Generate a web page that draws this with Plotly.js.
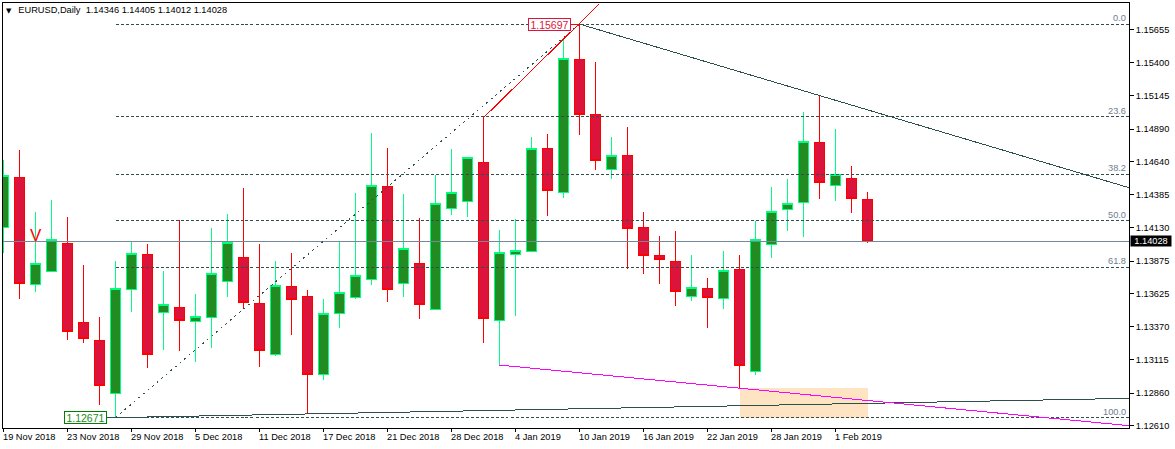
<!DOCTYPE html>
<html>
<head>
<meta charset="utf-8">
<script src="https://cdn.plot.ly/plotly-3.0.1.min.js"></script>
<style>
  html, body { margin: 0; padding: 0; background: #fff; }
  /* terminal style hard pixels */
  #chart svg path { shape-rendering: crispEdges; }
</style>
</head>
<body>
<div id="chart" style="width:1175px;height:449px"></div>
<script>
// daily bars, first one is 19 Nov 2018
const opens = [1.14133,1.14521,1.13696,1.13796,1.14006,1.13404,1.13265,1.12858,1.13657,1.13926,1.13480,1.13519,1.13411,1.13442,1.13719,1.13903,1.13552,1.13157,1.13680,1.13603,1.13004,1.13473,1.13596,1.13734,1.14449,1.13703,1.13857,1.13503,1.14280,1.14334,1.14634,1.13419,1.13926,1.13949,1.14742,1.14403,1.15426,1.15003,1.14580,1.14688,1.14129,1.13919,1.13873,1.13603,1.13665,1.13588,1.13811,1.13027,1.14003,1.14272,1.14326,1.14788,1.14457,1.14511,1.14346]
const highs = [1.14652,1.14728,1.14252,1.14344,1.14213,1.13844,1.13444,1.13875,1.14021,1.14006,1.13798,1.14190,1.13621,1.14129,1.14236,1.14436,1.14006,1.13875,1.13936,1.13652,1.13583,1.14029,1.14398,1.14857,1.14744,1.14390,1.14206,1.14539,1.14736,1.14672,1.14977,1.14113,1.14198,1.14828,1.14852,1.15574,1.15697,1.15405,1.14828,1.14905,1.14252,1.14067,1.14106,1.13921,1.13744,1.13952,1.13921,1.14185,1.14444,1.14505,1.15021,1.15149,1.14890,1.14605,1.14405]
const lows = [1.13936,1.13583,1.13639,1.13794,1.13267,1.13247,1.12768,1.12671,1.13483,1.13052,1.13190,1.13183,1.13098,1.13206,1.13598,1.13506,1.13062,1.13144,1.13306,1.12704,1.12960,1.13360,1.13583,1.13690,1.13560,1.13598,1.13429,1.13502,1.14231,1.14216,1.13247,1.13075,1.13454,1.13948,1.14221,1.14359,1.14844,1.14575,1.14505,1.13816,1.13775,1.13698,1.13529,1.13567,1.13360,1.13506,1.12896,1.13001,1.13898,1.14106,1.14062,1.14352,1.14336,1.14244,1.14012]
const closes = [1.14534,1.13700,1.13857,1.14042,1.13331,1.13277,1.12916,1.13665,1.13934,1.13154,1.13542,1.13416,1.13450,1.13780,1.14019,1.13554,1.13185,1.13688,1.13577,1.13001,1.13473,1.13634,1.13762,1.14457,1.13654,1.13973,1.13539,1.14316,1.14403,1.14672,1.13431,1.13942,1.13957,1.14742,1.14415,1.15431,1.15000,1.14646,1.14688,1.14123,1.13916,1.13885,1.13639,1.13673,1.13593,1.13803,1.13070,1.14042,1.14257,1.14319,1.14795,1.14477,1.14539,1.14352,1.14028]
const barIndex = opens.map((_, i) => i)

const dateTicks = [0,4,8,12,16,20,24,28,32,36,40,44,48,52]
const dateLabels = ['19 Nov 2018','23 Nov 2018','29 Nov 2018','5 Dec 2018','11 Dec 2018','17 Dec 2018','21 Dec 2018','28 Dec 2018','4 Jan 2019','10 Jan 2019','16 Jan 2019','22 Jan 2019','28 Jan 2019','1 Feb 2019']
const priceTicks = [1.15655,1.15400,1.15145,1.14890,1.14640,1.14385,1.14130,1.13875,1.13625,1.13370,1.13115,1.12860,1.12610]

// fibonacci retracement between the two marked extremes
const fibLevels = [1.15697,1.14983,1.14541,1.14184,1.13827,1.12671]
const fibLabels = ['0.0','23.6','38.2','50.0','61.8','100.0']
const fibStart = 7
const fibDiagX = [7,36]
const fibDiagY = [1.12671,1.15697]

const lastPrice = 1.14028
const xEnd = 70.42
const xRange = [-0.03125,70.34375]

// trend lines drawn on the chart
const redLineX = [30,37.23]
const redLineY = [1.14977,1.15851]
const fallingX = [36,xEnd]
const fallingY = [1.15697,1.14436]
const risingX = [7,xEnd]
const risingY = [1.12671,1.12819]
const magentaX = [31,xEnd]
const magentaY = [1.13075,1.12608]

// stems joining the price boxes to their points
const highStemX = [35.4,36]
const highStemY = [1.15697,1.15697]
const lowStemX = [6.4,7]
const lowStemY = [1.12671,1.12671]

const zoneX = [46,54]
const zoneY = [1.12671,1.12898]

const DARK = '#2f4f4f'
const FONT = 'Liberation Sans'
const TEXT_SIZE = 9.25

const lineTrace = (x, y, color, width, dash) => ({
    type: 'scatter',
    mode: 'lines',
    x: x,
    y: y,
    hoverinfo: 'skip',
    line: { color: color, width: width, dash: dash || 'solid' }
})

let data = [{
    type: 'candlestick',
    x: barIndex,
    open: opens,
    high: highs,
    low: lows,
    close: closes,
    whiskerwidth: 0,
    increasing: { line: { color: '#00ff7f', width: 1 }, fillcolor: '#228b22' },
    decreasing: { line: { color: '#ff0000', width: 1 }, fillcolor: '#dc143c' },
    hoverinfo: 'skip'
}]

data.push(lineTrace([barIndex[0] - 1, xEnd], [lastPrice, lastPrice], '#778899', 1))
fibLevels.forEach(level => {
    data.push(lineTrace([fibStart, xEnd], [level, level], DARK, 1, '3px,2px'))
})
data.push(lineTrace(fibDiagX, fibDiagY, DARK, 1, '2px,4px'))
data.push(lineTrace(fallingX, fallingY, DARK, 1))
data.push(lineTrace(risingX, risingY, DARK, 1))
data.push(lineTrace(magentaX, magentaY, '#ff00ff', 1))
data.push(lineTrace(redLineX, redLineY, '#ff0000', 1))
data.push(lineTrace(highStemX, highStemY, '#ff0000', 1))
data.push(lineTrace(lowStemX, lowStemY, DARK, 1))

let annotations = []

// left aligned date labels, the axis itself can only centre them
dateTicks.forEach((tick, i) => {
    annotations.push({
        x: tick, y: 0, xref: 'x', yref: 'paper',
        text: dateLabels[i], showarrow: false,
        xanchor: 'left', yanchor: 'top', xshift: -3, yshift: -2,
        font: { family: FONT, size: TEXT_SIZE, color: '#000' }
    })
})

fibLabels.forEach((label, i) => {
    annotations.push({
        x: xRange[1], y: fibLevels[i], xref: 'x', yref: 'y',
        text: label, showarrow: false,
        xanchor: 'right', yanchor: 'bottom', xshift: -1, yshift: -1,
        font: { family: FONT, size: TEXT_SIZE, color: '#708090' }
    })
})

annotations.push({
    x: 36, y: fibLevels[0], xref: 'x', yref: 'y',
    text: '1.15697', showarrow: false,
    xanchor: 'right', yanchor: 'middle', xshift: -9,
    width: 41, height: 11, align: 'center',
    bgcolor: '#fff', bordercolor: '#dc143c', borderwidth: 1, borderpad: 0,
    font: { family: FONT, size: 10.5, color: '#dc143c' }
})
annotations.push({
    x: 7, y: fibLevels[5], xref: 'x', yref: 'y',
    text: '1.12671', showarrow: false,
    xanchor: 'right', yanchor: 'middle', xshift: -9,
    width: 41, height: 11, align: 'center',
    bgcolor: '#fff', bordercolor: '#008000', borderwidth: 1, borderpad: 0,
    font: { family: FONT, size: 10.5, color: '#228b22' }
})
annotations.push({
    x: 2, y: 1.14071, xref: 'x', yref: 'y',
    text: 'V', showarrow: false,
    xanchor: 'center', yanchor: 'middle',
    font: { family: FONT, size: 17, color: '#ff0000' }
})
// current price tag on the scale
annotations.push({
    x: 1, y: lastPrice, xref: 'paper', yref: 'y',
    text: '1.14028', showarrow: false,
    xanchor: 'left', yanchor: 'middle', xshift: 1,
    width: 40, height: 10, align: 'center',
    bgcolor: '#000', borderpad: 0,
    font: { family: FONT, size: TEXT_SIZE, color: '#fff' }
})
annotations.push({
    x: 0, y: 1, xref: 'paper', yref: 'paper',
    text: '▼', showarrow: false,
    xanchor: 'left', yanchor: 'top', xshift: 1, yshift: -2,
    font: { family: 'DejaVu Sans', size: 7, color: '#000' }
})

const layout = {
    width: 1175,
    height: 449,
    margin: { l: 3, r: 46, t: 3, b: 21, autoexpand: false },
    paper_bgcolor: '#fff',
    plot_bgcolor: '#fff',
    showlegend: false,
    // candle body width comes from the box gaps, trace width is ignored
    boxgap: 0.375,
    boxgroupgap: 0,
    title: {
        text: 'EURUSD,Daily\u00a0\u00a01.14346 1.14405 1.14012 1.14028',
        x: 18.3 / 1175,
        xanchor: 'left',
        y: 1 - 10 / 449,
        yanchor: 'middle',
        font: { family: FONT, size: TEXT_SIZE, color: '#000' }
    },
    xaxis: {
        type: 'linear',
        range: xRange,
        tickvals: dateTicks,
        ticktext: dateTicks.map(() => ''),
        ticks: 'outside',
        ticklen: 3,
        tickcolor: '#000',
        showgrid: false,
        zeroline: false,
        showline: true,
        mirror: true,
        linecolor: '#000',
        linewidth: 1,
        rangeslider: { visible: false }
    },
    yaxis: {
        side: 'right',
        range: [1.12591, 1.15859],
        tickvals: priceTicks,
        ticktext: priceTicks.map(p => p.toFixed(5)),
        ticks: 'outside',
        ticklen: 4,
        tickcolor: '#000',
        tickfont: { family: FONT, size: TEXT_SIZE, color: '#000' },
        showgrid: false,
        zeroline: false,
        showline: true,
        mirror: true,
        linecolor: '#000',
        linewidth: 1
    },
    shapes: [{
        type: 'rect',
        layer: 'below',
        xref: 'x',
        yref: 'y',
        x0: zoneX[0],
        x1: zoneX[1],
        y0: zoneY[0],
        y1: zoneY[1],
        fillcolor: '#ffe4c4',
        line: { width: 0 }
    }],
    annotations: annotations
}

Plotly.newPlot('chart', data, layout, { displayModeBar: false, staticPlot: true })
</script>
</body>
</html>
